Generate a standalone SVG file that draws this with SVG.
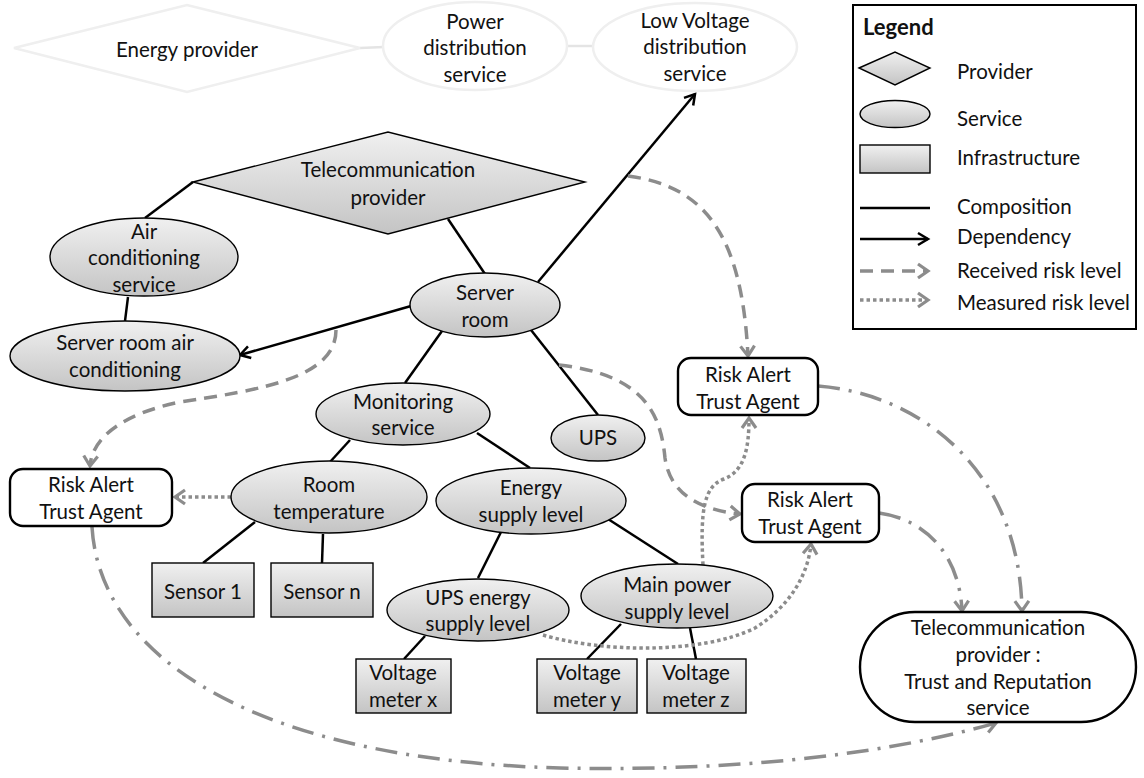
<svg xmlns="http://www.w3.org/2000/svg" width="1144" height="778" viewBox="0 0 1144 778">
  <defs>
    <linearGradient id="gray" x1="0" y1="0" x2="0" y2="1">
      <stop offset="0" stop-color="#f0f0f0"/>
      <stop offset="1" stop-color="#c4c4c4"/>
    </linearGradient>
    <marker id="dep" markerUnits="userSpaceOnUse" markerWidth="16" markerHeight="16" refX="12" refY="7" orient="auto" overflow="visible">
      <path d="M2,1 L12,7 L2,13" fill="none" stroke="#000" stroke-width="2.5"/>
    </marker>
    <marker id="risk" markerUnits="userSpaceOnUse" markerWidth="18" markerHeight="18" refX="12" refY="8" orient="auto" overflow="visible">
      <path d="M2,1 L12,8 L2,15" fill="none" stroke="#8c8c8c" stroke-width="3.2"/>
    </marker>
    <style>
      text { font-family: Lato, "Open Sans", "Liberation Sans", sans-serif; font-size: 20.5px; fill: #111; text-anchor: middle; }
      .faint { fill: #fff; stroke: #efefef; stroke-width: 2.5; }
      .shape { fill: url(#gray); stroke: #000; stroke-width: 1.4; }
      .agent { fill: #fff; stroke: #000; stroke-width: 2.4; }
      .comp { stroke: #000; stroke-width: 2.5; fill: none; }
      .dep { stroke: #000; stroke-width: 2.5; fill: none; marker-end: url(#dep); }
      .recv { stroke: #8c8c8c; stroke-width: 3.5; fill: none; stroke-dasharray: 13 8; marker-end: url(#risk); }
      .meas { stroke: #8c8c8c; stroke-width: 3.5; fill: none; stroke-dasharray: 3.5 3; marker-end: url(#risk); }
      .rep { stroke: #8c8c8c; stroke-width: 3.5; fill: none; stroke-dasharray: 22 9 3 9; marker-end: url(#risk); }
      .legend-title { font-weight: bold; text-anchor: start; font-size: 22px; }
      .lt { text-anchor: start; }
    </style>
  </defs>

  <rect width="1144" height="778" fill="#fff"/>

  <!-- connectors -->
  <g id="connectors">
    <!-- faint top chain -->
    <line x1="360" y1="48" x2="384" y2="47" stroke="#e4e4e4" stroke-width="2.5"/>
    <line x1="567" y1="46" x2="593" y2="46" stroke="#e4e4e4" stroke-width="2.5"/>
    <!-- composition -->
    <line class="comp" x1="193" y1="182" x2="145" y2="218"/>
    <line class="comp" x1="128" y1="297" x2="125" y2="321"/>
    <line class="comp" x1="448" y1="219" x2="485" y2="274"/>
    <line class="comp" x1="442" y1="331" x2="405" y2="383"/>
    <line class="comp" x1="531" y1="330" x2="598" y2="415"/>
    <line class="comp" x1="350" y1="440" x2="330" y2="462"/>
    <line class="comp" x1="477" y1="433" x2="530" y2="468"/>
    <line class="comp" x1="255" y1="522" x2="203" y2="563"/>
    <line class="comp" x1="323" y1="534" x2="322" y2="563"/>
    <line class="comp" x1="501" y1="532" x2="478" y2="578"/>
    <line class="comp" x1="608" y1="519" x2="678" y2="564"/>
    <line class="comp" x1="425" y1="636" x2="404" y2="659"/>
    <line class="comp" x1="621" y1="624" x2="587" y2="659"/>
    <line class="comp" x1="690" y1="628" x2="696" y2="659"/>
    <!-- dependency -->
    <line class="dep" x1="538" y1="282" x2="695" y2="94"/>
    <line class="dep" x1="411" y1="306" x2="240" y2="355"/>
    <!-- received risk level -->
    <path class="recv" d="M628,176 C705,186 742,235 748,356"/>
    <path class="recv" d="M336,330 C336,378 260,390 180,402 C122,414 92,438 90,466"/>
    <path class="recv" d="M559,365 C648,375 661,418 665,458 C670,494 700,510 740,514"/>
    <!-- measured risk level -->
    <path class="meas" d="M231,497 L175,497"/>
    <path class="meas" d="M703,565 C700,510 704,486 724,479 C744,471 749,450 749,418"/>
    <path class="meas" d="M543,635 C600,652 700,655 755,628 C790,606 808,575 811,544"/>
    <!-- reputation feed -->
    <path class="rep" d="M818,386 C920,394 1020,470 1022,611"/>
    <path class="rep" d="M879,513 C930,520 960,560 962,611"/>
    <path class="rep" d="M92,527 C100,660 260,760 560,768 C760,772 900,750 996,723"/>
  </g>

  <!-- faint context nodes -->
  <g id="energy-provider">
    <polygon class="faint" points="14,48 187,5 360,48 187,92"/>
    <text x="187" y="57">Energy provider</text>
  </g>
  <g id="power-distribution">
    <ellipse class="faint" cx="475" cy="46" rx="92" ry="44"/>
    <text x="475" y="29">Power</text>
    <text x="475" y="55">distribution</text>
    <text x="475" y="82">service</text>
  </g>
  <g id="low-voltage">
    <ellipse class="faint" cx="695" cy="47" rx="102" ry="44"/>
    <text x="695" y="28">Low Voltage</text>
    <text x="695" y="54">distribution</text>
    <text x="695" y="81">service</text>
  </g>

  <g id="telecom-provider">
    <polygon class="shape" points="193,182 388,132 585,182 388,234"/>
    <text x="388" y="177">Telecommunication</text>
    <text x="388" y="205">provider</text>
  </g>
  <g id="air-conditioning-service">
    <ellipse class="shape" cx="144" cy="257" rx="94" ry="39"/>
    <text x="144" y="239">Air</text>
    <text x="144" y="265">conditioning</text>
    <text x="144" y="292">service</text>
  </g>
  <g id="server-room-air">
    <ellipse class="shape" cx="125" cy="356" rx="115" ry="35"/>
    <text x="125" y="350">Server room air</text>
    <text x="125" y="377">conditioning</text>
  </g>
  <g id="server-room">
    <ellipse class="shape" cx="485" cy="305" rx="75" ry="32"/>
    <text x="485" y="300">Server</text>
    <text x="485" y="327">room</text>
  </g>
  <g id="ups">
    <ellipse class="shape" cx="598" cy="438" rx="47" ry="23"/>
    <text x="598" y="445">UPS</text>
  </g>
  <g id="monitoring-service">
    <ellipse class="shape" cx="403" cy="414" rx="87" ry="31"/>
    <text x="403" y="409">Monitoring</text>
    <text x="403" y="435">service</text>
  </g>
  <g id="room-temperature">
    <ellipse class="shape" cx="329" cy="497" rx="98" ry="36"/>
    <text x="329" y="492">Room</text>
    <text x="329" y="519">temperature</text>
  </g>
  <g id="energy-supply">
    <ellipse class="shape" cx="531" cy="501" rx="95" ry="33"/>
    <text x="531" y="495">Energy</text>
    <text x="531" y="522">supply level</text>
  </g>
  <g id="sensor-1">
    <rect class="shape" x="152" y="563" width="102" height="54"/>
    <text x="203" y="599">Sensor 1</text>
  </g>
  <g id="sensor-n">
    <rect class="shape" x="271" y="563" width="102" height="54"/>
    <text x="322" y="599">Sensor n</text>
  </g>
  <g id="ups-energy">
    <ellipse class="shape" cx="478" cy="610" rx="91" ry="31"/>
    <text x="478" y="605">UPS energy</text>
    <text x="478" y="631">supply level</text>
  </g>
  <g id="main-power">
    <ellipse class="shape" cx="677" cy="596" rx="96" ry="32"/>
    <text x="677" y="592">Main power</text>
    <text x="677" y="619">supply level</text>
  </g>
  <g id="voltage-meter-x">
    <rect class="shape" x="356" y="659" width="95" height="54"/>
    <text x="403" y="680">Voltage</text>
    <text x="403" y="707">meter x</text>
  </g>
  <g id="voltage-meter-y">
    <rect class="shape" x="537" y="659" width="100" height="54"/>
    <text x="587" y="680">Voltage</text>
    <text x="587" y="707">meter y</text>
  </g>
  <g id="voltage-meter-z">
    <rect class="shape" x="647" y="659" width="99" height="54"/>
    <text x="696" y="680">Voltage</text>
    <text x="696" y="707">meter z</text>
  </g>

  <!-- trust agents -->
  <g id="agent-left">
    <rect class="agent" x="10" y="469" width="162" height="57" rx="13"/>
    <text x="91" y="492">Risk Alert</text>
    <text x="91" y="519">Trust Agent</text>
  </g>
  <g id="agent-upper">
    <rect class="agent" x="678" y="358" width="140" height="57" rx="13"/>
    <text x="748" y="382">Risk Alert</text>
    <text x="748" y="409">Trust Agent</text>
  </g>
  <g id="agent-middle">
    <rect class="agent" x="742" y="484" width="137" height="58" rx="13"/>
    <text x="810" y="507">Risk Alert</text>
    <text x="810" y="534">Trust Agent</text>
  </g>
  <g id="trust-reputation">
    <rect class="agent" x="860" y="612" width="276" height="110" rx="55"/>
    <text x="998" y="635">Telecommunication</text>
    <text x="998" y="662">provider :</text>
    <text x="998" y="689">Trust and Reputation</text>
    <text x="998" y="715">service</text>
  </g>

  <!-- legend -->
  <g id="legend">
    <rect x="853" y="5" width="283" height="324" fill="#fff" stroke="#000" stroke-width="2"/>
    <text class="legend-title" x="863" y="35">Legend</text>
    <polygon class="shape" points="859,68 895,52 930,68 895,85"/>
    <text class="lt" x="957" y="79">Provider</text>
    <ellipse class="shape" cx="895" cy="114" rx="35" ry="13.5"/>
    <text class="lt" x="957" y="126">Service</text>
    <rect class="shape" x="860" y="145" width="70" height="28"/>
    <text class="lt" x="957" y="165">Infrastructure</text>
    <line class="comp" x1="860" y1="208" x2="930" y2="208"/>
    <text class="lt" x="957" y="214">Composition</text>
    <line class="dep" x1="860" y1="239" x2="928" y2="239"/>
    <text class="lt" x="957" y="244">Dependency</text>
    <line class="recv" x1="860" y1="271" x2="928" y2="271"/>
    <text class="lt" x="957" y="278">Received risk level</text>
    <line class="meas" x1="860" y1="300" x2="928" y2="300"/>
    <text class="lt" x="957" y="310">Measured risk level</text>
  </g>
</svg>
